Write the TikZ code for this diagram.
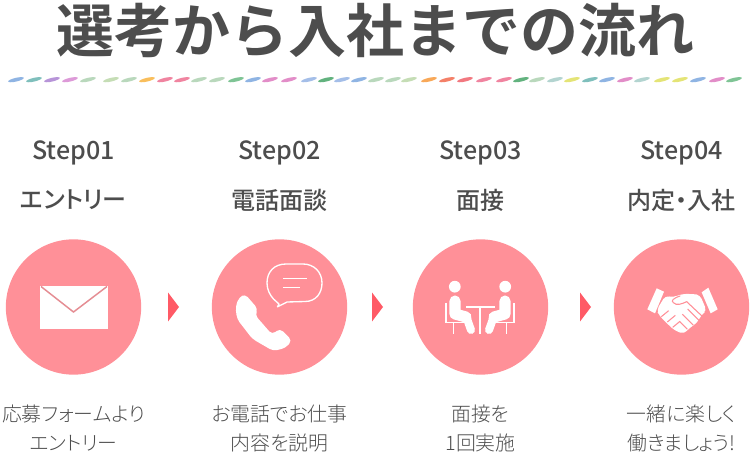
\documentclass[tikz,border=0pt]{standalone}
\usepackage{fontspec}
\setmainfont{Noto Sans CJK JP}
\newfontfamily\boldjp{Noto Sans CJK JP Bold}
\newfontfamily\mediumjp{Noto Sans CJK JP Medium}
\newfontfamily\subjp[RawFeature={+palt}]{Noto Sans CJK JP Medium}
\newfontfamily\lightjp[RawFeature={+palt}]{Noto Sans CJK JP Light}
\definecolor{textgray}{HTML}{4D4D4D}
\definecolor{circlepink}{HTML}{FF9098}
\definecolor{arrowred}{HTML}{FF5A66}
\definecolor{dashA}{HTML}{8FB4E3}
\definecolor{dashB}{HTML}{7FBFBC}
\definecolor{dashC}{HTML}{B794D8}
\definecolor{dashD}{HTML}{DD9AD8}
\definecolor{dashE}{HTML}{B9D8BC}
\definecolor{dashF}{HTML}{C5DDB5}
\definecolor{dashG}{HTML}{F9BE5C}
\definecolor{dashH}{HTML}{F084A0}
\definecolor{dashI}{HTML}{7FC495}
\definecolor{dashJ}{HTML}{E28DC8}
\definecolor{dashK}{HTML}{A4BEE8}
\definecolor{dashL}{HTML}{62B27E}
\definecolor{dashM}{HTML}{F8A858}
\definecolor{dashN}{HTML}{F48068}
\definecolor{dashO}{HTML}{F27880}
\definecolor{dashP}{HTML}{E4E476}
\definecolor{dashQ}{HTML}{B3D4D0}
\tikzset{
  titlelabel/.style={text=textgray, font=\boldjp\fontsize{43.5}{44}\selectfont},
  steplabel/.style={text=textgray, font=\mediumjp\fontsize{18.8}{19}\selectfont},
  namelabel/.style={text=textgray, font=\subjp\fontsize{18}{18}\selectfont},
  notelabel/.style={text=textgray, font=\lightjp\fontsize{14.9}{15}\selectfont},
  stepcircle/.style={circle, fill=circlepink, minimum size=101.5pt, inner sep=0pt},
}
\begin{document}
\begin{tikzpicture}[x=0.75pt, y=-0.75pt]
        \useasboundingbox (0, 0) rectangle (753, 452);
        \node[titlelabel] (title) at (375, 30.5) {選考から入社までの流れ};

        % dashed rule under the title
        \foreach \x/\c in {16/dashA, 34/dashB, 52/dashC, 70/dashD, 88/dashE, 111/dashF, 129/dashE,
            147/dashG, 165/dashH, 182/dashH, 199/dashE, 217/dashE, 236/dashI, 253/dashA, 270/dashJ,
            289/dashJ, 309/dashK, 326/dashL, 342/dashK, 359/dashA, 376/dashE, 393/dashE, 409/dashF,
            429/dashM, 447/dashN, 465/dashO, 484/dashH, 504/dashH, 521/dashL, 537/dashE, 555/dashQ,
            572/dashP, 590/dashB, 607/dashA, 625/dashJ, 642/dashQ, 662/dashP, 680/dashP, 698/dashA,
            717/dashJ, 734/dashI}
            \fill [\c, shift={(\x, 79.7)}, rotate=13] (0, 0) ellipse [x radius=6pt, y radius=1.4pt];

        % circles, one per step
        \node[stepcircle] (circleone) at (73.5, 307) {};
        \node[stepcircle] (circletwo) at (279.5, 307) {};
        \node[stepcircle] (circlethree) at (480.5, 307) {};
        \node[stepcircle] (circlefour) at (681.5, 307) {};

        % arrows between the circles
        \foreach \x in {168, 372, 580}
            \fill [arrowred] (\x, 292.5) -- (\x+11, 307) -- (\x, 321.5) -- cycle;

        \node[steplabel] (stepone) at (73.5, 152.5) {Step01};
        \node[steplabel] (steptwo) at (279.5, 152.5) {Step02};
        \node[steplabel] (stepthree) at (480.5, 152.5) {Step03};
        \node[steplabel] (stepfour) at (681.5, 152.5) {Step04};

        \node[namelabel] (nameone) at (73.5, 200) {エントリー};
        \node[namelabel] (nametwo) at (279.5, 200) {電話面談};
        \node[namelabel] (namethree) at (480.5, 200) {面接};
        \node[namelabel] (namefour) at (681.5, 200) {内定・入社};

        \node[notelabel] (noteoneA) at (73.5, 414) {応募フォームより};
        \node[notelabel] (noteoneB) at (73.5, 443) {エントリー};
        \node[notelabel] (notetwoA) at (279.5, 414) {お電話でお仕事};
        \node[notelabel] (notetwoB) at (279.5, 443) {内容を説明};
        \node[notelabel] (notethreeA) at (480.5, 414) {面接を};
        \node[notelabel] (notethreeB) at (480.5, 443) {1回実施};
        \node[notelabel] (notefourA) at (681.5, 414) {一緒に楽しく};
        \node[notelabel] (notefourB) at (681.5, 443) {働きましょう!};

        % envelope
        \fill [white] (40, 286) rectangle (107.7, 328.7);
        \draw [circlepink!80!gray, line width=1.1pt] (41, 286.5) -- (73.5, 312) -- (107, 286.5);

        % telephone
        \fill [white, rounded corners=3pt] (245, 294) -- (258, 309) -- (255, 315) -- (272, 334.5)
            -- (280, 328.5) -- (292, 340.5) -- (285.5, 348) -- (273.3, 351) -- (252.5, 339)
            -- (237, 319) -- (235.5, 306.7) -- (239, 297.5) -- cycle;
        \draw [white, line width=1pt, line join=round] (287, 302) -- (305, 301.5)
            .. controls (316, 301.5) and (322, 293) .. (322, 283)
            .. controls (322, 272) and (314, 264) .. (303, 264) -- (286, 264)
            .. controls (274, 264) and (267, 272) .. (267, 283)
            .. controls (267, 290) and (270, 295) .. (273.5, 299)
            -- (279, 304) -- (277.5, 306.8) -- cycle;
        \draw [white, line width=1pt] (283, 278.7) -- (307, 278.7);
        \draw [white, line width=1pt] (283, 287.3) -- (300, 287.3);

        % two people at a table
        \foreach \s in {1, -1} {
            \begin{scope}[shift={(480, 0)}, xscale=\s]
                \fill [white] (-25.2, 286.7) circle (4.4pt);
                \draw [white, line width=8.3pt, line join=round, line cap=round] (-25, 301) -- (-25, 314) -- (-14, 317);
                \draw [white, line width=6pt, line cap=round] (-14, 316) -- (-9, 330);
                \draw [white, line width=1pt] (-34, 303) -- (-34, 322.5) -- (-15, 322.5);
                \draw [white, line width=1pt] (-26.5, 322.5) -- (-26.5, 334);
            \end{scope}
        }
        \draw [white, line width=1pt] (466, 307) -- (495, 307);
        \draw [white, line width=1pt] (480, 307) -- (480, 334);

        % handshake
        \begin{scope}[shift={(640, 280)}, scale=1/3]
            \fill [white] (50, 25) -- (72, 35) -- (45, 100) -- (22, 88) -- cycle;
            \fill [white] (205, 23) -- (233, 88) -- (212, 100) -- (185, 37) -- cycle;
            \fill [white, rounded corners=3pt] (76, 47) -- (100, 52) -- (125, 42) -- (160, 42) -- (180, 45)
                -- (200, 92) -- (185, 104) -- (170, 130) -- (148, 144) -- (132, 162) -- (105, 152)
                -- (88, 137) -- (58, 107) -- (50, 90) -- cycle;
            \draw [circlepink, line width=0.8pt, line cap=round] (120, 48) .. controls (100, 55) and (92, 62) .. (100, 68)
                .. controls (110, 78) and (125, 72) .. (140, 65) -- (190, 112);
            \draw [circlepink, line width=0.8pt] (178, 122) -- (143, 87);
            \draw [circlepink, line width=0.8pt] (160, 136) -- (127, 103);
            \draw [circlepink, line width=0.8pt] (142, 148) -- (118, 124);
            \draw [circlepink, line width=0.8pt] (64, 110) -- (86, 92);
            \draw [circlepink, line width=0.8pt] (82, 126) -- (106, 106);
            \draw [circlepink, line width=0.8pt] (98, 142) -- (120, 124);
        \end{scope}
\end{tikzpicture}
\end{document}
